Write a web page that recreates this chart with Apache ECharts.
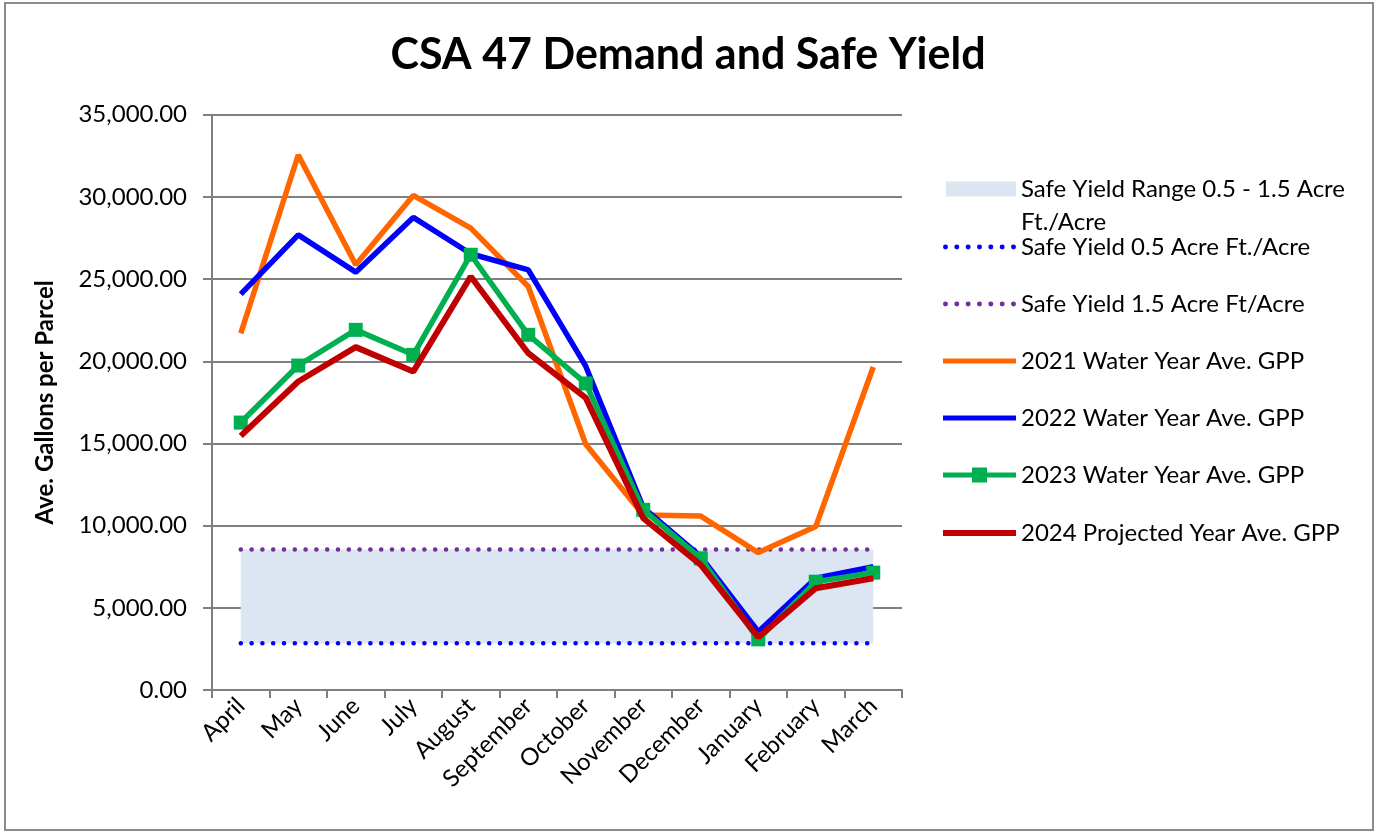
<!DOCTYPE html>
<html>
<head>
<meta charset="utf-8">
<script src="https://cdn.jsdelivr.net/npm/echarts@6/dist/echarts.min.js"></script>
<style>
html,body{margin:0;padding:0;background:#fff;}
#chart{width:1376px;height:832px;}
</style>
</head>
<body>
<div id="chart"></div>
<script>
var months = ['April','May','June','July','August','September','October','November','December','January','February','March'];
var safeLow  = [2850,2850,2850,2850,2850,2850,2850,2850,2850,2850,2850,2850];
var safeHigh = [8550,8550,8550,8550,8550,8550,8550,8550,8550,8550,8550,8550];
var wy2021 = [21700,32550,25870,30090,28100,24550,14950,10650,10580,8360,9940,19650];
var wy2022 = [24080,27690,25420,28750,26540,25560,19700,11100,8110,3550,6800,7500];
var wy2023 = [16270,19740,21910,20390,26480,21610,18650,10960,8010,3080,6590,7140];
var wy2024 = [15460,18770,20860,19370,25160,20490,17770,10450,7610,3210,6190,6800];
var yTicks = {min:0, max:35000, interval:5000};

var FONT = 'Lato';
var rangeWidth = safeHigh.map(function(v,i){ return v - safeLow[i]; });

var nameRange = 'Safe Yield Range 0.5 - 1.5 Acre Ft./Acre';
var nameLow = 'Safe Yield 0.5 Acre Ft./Acre';
var nameHigh = 'Safe Yield 1.5 Acre Ft/Acre';
var n21 = '2021 Water Year Ave. GPP';
var n22 = '2022 Water Year Ave. GPP';
var n23 = '2023 Water Year Ave. GPP';
var n24 = '2024 Projected Year Ave. GPP';

// legend icon shapes
function dotsPath(){
  var p = 'path://', r = 2.5;
  for (var i = 0; i < 7; i++) {
    var cx = 2.5 + i * 11.4;
    p += 'M' + (cx - r) + ',2.5 A' + r + ',' + r + ' 0 1,0 ' + (cx + r) + ',2.5 A' + r + ',' + r + ' 0 1,0 ' + (cx - r) + ',2.5 Z ';
  }
  return p;
}
var markerLinePath = 'path://M0,5 L29,5 L29,0 L44,0 L44,5 L73,5 L73,10 L44,10 L44,15 L29,15 L29,10 L0,10 Z';

var LEG_FS = 24, LEG_LH = 26;
function leg(name, center, icon, h, w){
  return {
    orient:'vertical', left:943, top:center - LEG_LH / 2, padding:0,
    itemWidth:w || 73, itemHeight:h, selectedMode:false,
    itemStyle:{borderWidth:0},
    data:[{name:name, icon:icon}],
    textStyle:{fontFamily:FONT, fontSize:LEG_FS, color:'#000', lineHeight:LEG_LH}
  };
}

var chart = echarts.init(document.getElementById('chart'), null, {renderer:'canvas'});
var option = {
  backgroundColor:'#fff',
  animation:false,
  title:{
    text:'CSA 47 Demand and Safe Yield', left:'center', top:29,
    textStyle:{fontFamily:FONT, fontSize:43, fontWeight:'bold', color:'#000'}
  },
  graphic:[{
    type:'rect', shape:{x:5, y:3, width:1368, height:827},
    style:{fill:'none', stroke:'#8c8c8c', lineWidth:2}, silent:true, z:-10
  }],
  legend:[
    {
      orient:'vertical', left:946, top:189 - 49.5, padding:0,
      itemWidth:70, itemHeight:15, selectedMode:false,
      itemStyle:{borderWidth:0},
      data:[{name:nameRange, icon:'rect'}],
      formatter:function(){ return ' \nSafe Yield Range 0.5 - 1.5 Acre\nFt./Acre'; },
      textStyle:{fontFamily:FONT, fontSize:LEG_FS, color:'#000', lineHeight:33}
    },
    leg(nameLow, 247, dotsPath(), 5),
    leg(nameHigh, 304, dotsPath(), 5),
    leg(n21, 361, 'rect', 5),
    leg(n22, 418, 'rect', 5),
    leg(n23, 475, markerLinePath, 15),
    leg(n24, 533, 'rect', 6)
  ],
  grid:{left:212, right:474, top:114.7, bottom:142, containLabel:false},
  xAxis:{
    type:'category', data:months, boundaryGap:true,
    axisLine:{lineStyle:{color:'#7f7f7f', width:2}},
    axisTick:{show:true, length:8, lineStyle:{color:'#7f7f7f', width:2}},
    axisLabel:{rotate:45, margin:12, fontFamily:FONT, fontSize:24, color:'#000', interval:0},
    splitLine:{show:false}
  },
  yAxis:{
    type:'value', min:yTicks.min, max:yTicks.max, interval:yTicks.interval,
    name:'Ave. Gallons per Parcel', nameLocation:'middle', nameGap:155, nameRotate:90,
    nameTextStyle:{fontFamily:FONT, fontSize:24, fontWeight:'bold', color:'#000'},
    axisLine:{show:true, lineStyle:{color:'#7f7f7f', width:2}},
    axisTick:{show:true, length:9, lineStyle:{color:'#7f7f7f', width:2}},
    axisLabel:{margin:25, fontFamily:FONT, fontSize:24, color:'#000',
      formatter:function(v){ return v.toLocaleString('en-US',{minimumFractionDigits:2, maximumFractionDigits:2}); }},
    splitLine:{show:true, lineStyle:{color:'#7f7f7f', width:2}}
  },
  series:[
    {name:'base', type:'line', stack:'range', data:safeLow, symbol:'none',
      lineStyle:{opacity:0}, silent:true, z:1},
    {name:nameRange, type:'line', stack:'range', data:rangeWidth, symbol:'none',
      lineStyle:{opacity:0, width:0}, itemStyle:{color:'#dce6f2'},
      areaStyle:{color:'#dce6f2', opacity:1}, silent:true, z:1},
    {name:nameLow, type:'line', data:safeLow, symbol:'none', z:2,
      itemStyle:{color:'#0000ff'},
      lineStyle:{color:'#0000ff', width:4.5, type:[0.1,10.7], cap:'round'}},
    {name:nameHigh, type:'line', data:safeHigh, symbol:'none', z:2,
      itemStyle:{color:'#7030a0'},
      lineStyle:{color:'#7030a0', width:4.5, type:[0.1,10.7], cap:'round'}},
    {name:n21, type:'line', data:wy2021, symbol:'none', z:3,
      itemStyle:{color:'#ff6600'}, lineStyle:{color:'#ff6600', width:5.5}},
    {name:n22, type:'line', data:wy2022, symbol:'none', z:4,
      itemStyle:{color:'#0000ff'}, lineStyle:{color:'#0000ff', width:5.5}},
    {name:n23, type:'line', data:wy2023, symbol:'rect', symbolSize:14, showAllSymbol:true, z:5,
      itemStyle:{color:'#00b050'}, lineStyle:{color:'#00b050', width:5.5}},
    {name:n24, type:'line', data:wy2024, symbol:'none', z:6,
      itemStyle:{color:'#c00000'}, lineStyle:{color:'#c00000', width:6}}
  ]
};
chart.setOption(option);
</script>
</body>
</html>
